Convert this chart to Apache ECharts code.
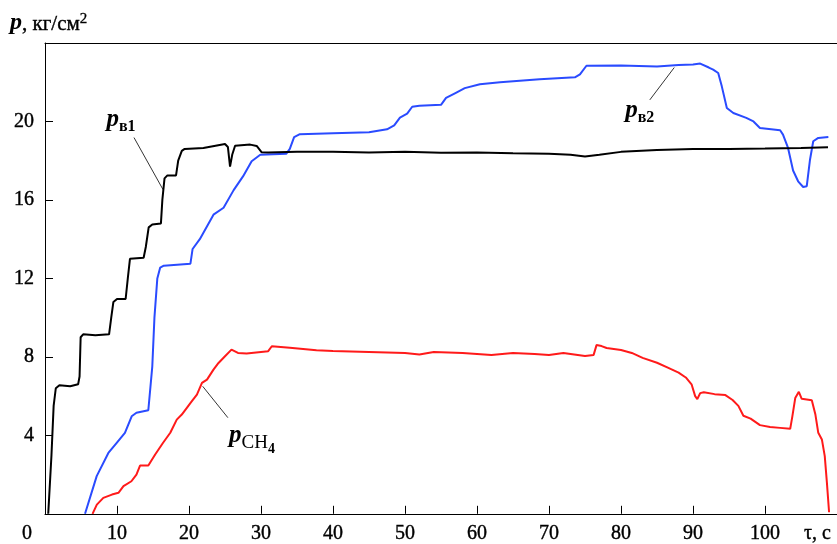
<!DOCTYPE html>
<html>
<head>
<meta charset="utf-8">
<script src="https://cdn.jsdelivr.net/npm/echarts@6/dist/echarts.min.js"></script>
<style>html,body{margin:0;padding:0;background:#fff;}#c{width:837px;height:544px;}</style>
</head>
<body>
<div id="c"></div>
<script>
// ---- data ----
var xTicks = [0,10,20,30,40,50,60,70,80,90,100,110];
var yTicks = [4,8,12,16,20];

var pv1X = [0.45,0.9,1.2,1.5,2.0,3.5,4.6,4.8,4.95,5.3,7.0,8.9,9.2,9.5,10.0,11.2,11.5,11.8,13.7,14.0,14.4,14.9,16.1,16.3,16.6,17.0,18.2,18.5,19.0,19.4,22.0,25.0,25.4,25.7,26.0,26.4,28.5,29.4,30.1,31,35,40,45,50,55,60,65,70,73,75,77,80,85,90,95,100,105,108.75];
var pv1Y = [0,3.0,5.5,6.4,6.55,6.5,6.6,7.0,9.0,9.15,9.1,9.15,10.0,10.8,10.95,10.95,12.0,13.0,13.05,13.6,14.6,14.75,14.8,16.0,17.1,17.25,17.25,18.0,18.5,18.6,18.65,18.85,18.7,17.7,18.3,18.76,18.82,18.75,18.43,18.42,18.45,18.45,18.42,18.45,18.4,18.42,18.38,18.35,18.3,18.22,18.3,18.45,18.55,18.6,18.6,18.62,18.65,18.68];

var pv2X = [5.56,7.18,8.8,9.96,11.1,12.04,12.7,14.35,14.6,14.9,15.2,15.6,16.0,16.5,20.2,20.5,21.5,23.4,24.8,26.2,27.5,28.7,29.9,33.5,34.0,34.6,35.4,40,45,47.5,48.5,49.3,50.3,51.0,52,55,55.7,57,58.3,60.4,63.2,68.7,73.6,74.3,75.2,80,85,88,90,91,92.2,92.8,93.5,94.0,94.7,95.6,97.4,98.4,99.3,102.1,102.5,103.2,103.9,104.6,105.3,105.8,106.25,106.7,107.4,108.8];
var pv2Y = [0,1.92,3.1,3.62,4.13,4.97,5.15,5.28,5.3,7.5,10.0,12.0,12.55,12.65,12.75,13.5,14.0,15.25,15.6,16.5,17.2,17.97,18.3,18.35,18.6,19.2,19.35,19.4,19.45,19.6,19.8,20.2,20.4,20.75,20.8,20.85,21.2,21.45,21.7,21.9,22.0,22.15,22.25,22.4,22.84,22.85,22.8,22.88,22.9,22.95,22.75,22.64,22.47,21.79,20.69,20.43,20.18,20.0,19.67,19.55,19.33,18.65,17.5,16.95,16.66,16.7,18.05,18.99,19.16,19.21];

var pchX = [6.6,7.2,8.1,9.3,10.2,10.9,12.0,12.7,13.2,14.35,15.3,16.4,17.4,18.3,19.0,19.7,20.4,21.1,21.8,22.5,23.4,24.1,25.0,25.9,26.8,28.0,31.0,31.5,34.0,37.7,40,45,50,52,54,58,62,65,68,70,72,75,76.2,76.6,77.3,78,80,81.5,83,85,86.5,88,89,89.8,90.3,90.6,91,91.5,93,94.5,95.5,96.3,97,98,99.3,100.7,102.1,103.5,103.8,104.2,104.7,105.1,106.5,107.0,107.4,107.9,108.3,108.6,108.9];
var pchY = [0,0.47,0.81,0.98,1.07,1.41,1.66,2.0,2.46,2.46,3.02,3.62,4.13,4.8,5.06,5.4,5.74,6.08,6.67,6.84,7.35,7.69,8.03,8.37,8.2,8.17,8.29,8.54,8.46,8.34,8.3,8.25,8.2,8.12,8.25,8.2,8.1,8.2,8.15,8.1,8.2,8.05,8.1,8.6,8.55,8.45,8.35,8.2,7.95,7.7,7.45,7.2,6.95,6.6,6.0,5.85,6.15,6.2,6.1,6.05,5.8,5.5,5.0,4.85,4.52,4.43,4.38,4.33,4.97,5.9,6.22,5.86,5.79,5.06,4.13,3.79,2.94,1.58,0.08];

// annotation anchors (data coords): label centre, leader line start/end
var labelPv1 = [10.56, 19.97], leaderPv1 = [[12.36,19.18],[16.39,16.53]];
var labelPv2 = [82.6, 20.43],  leaderPv2 = [[84.0,21.1],[87.4,22.75]];
var labelPch = [28.75, 3.70],  leaderPch = [[25.4,4.9],[21.9,6.5]];

function pairs(xs, ys){ var o=[]; for(var i=0;i<xs.length;i++) o.push([xs[i], ys[i]]); return o; }

var SERIF = '"Liberation Serif","DejaVu Serif",serif';
function tok(size, weight, italic, padTop, lh){
  return {fontFamily:SERIF, fontSize:size, fontWeight:weight, fontStyle:italic?'italic':'normal',
    color:'#000', verticalAlign:'top', padding:[padTop,0,0,0], lineHeight:lh};
}
var richV = {p:tok(25,'bold',true,0,30), s:tok(16,'bold',false,12,30)};
var richC = {p:tok(25,'bold',true,0,36), c:tok(19,'normal',false,10,36), n:tok(14,'bold',false,19,36)};

function annot(label, leader, text, rich){
  return {
    markPoint: {
      symbol:'circle', symbolSize:0, silent:true, animation:false,
      data:[{coord:label, label:{show:true, position:'inside', formatter:text, rich:rich}}]
    },
    markLine: {
      symbol:['none','none'], silent:true, animation:false,
      label:{show:false},
      lineStyle:{color:'#000', width:0.8, type:'solid'},
      data:[[{coord:leader[0]},{coord:leader[1]}]]
    }
  };
}

var chart = echarts.init(document.getElementById('c'), null, {renderer:'canvas'});
var a1 = annot(labelPv1, leaderPv1, '{p|p}{s|в1}', richV);
var a2 = annot(labelPv2, leaderPv2, '{p|p}{s|в2}', richV);
var a3 = annot(labelPch, leaderPch, '{p|p}{c|CH}{n|4}', richC);

var tickFont = {fontFamily:SERIF, fontSize:20, color:'#000', textBorderColor:'#000', textBorderWidth:0.4};

var option = {
  animation:false,
  backgroundColor:'#fff',
  grid:{left:45, right:0, top:43, bottom:30, containLabel:false},
  xAxis:[{
    type:'value', min:0, max:110, interval:10,
    axisLine:{show:true, lineStyle:{color:'#000', width:1}},
    axisTick:{show:true, inside:true, length:8, lineStyle:{color:'#000'}},
    splitLine:{show:false},
    axisLabel:{
      show:true, margin:10, showMinLabel:true, showMaxLabel:true,
      fontFamily:SERIF, fontSize:20, color:'#000',
      formatter:function(v){
        if(v===0) return '{z|0}';
        if(v===110) return '{t|τ, c}';
        return '{d|'+v+'}';
      },
      rich:{
        d:tickFont,
        z:Object.assign({}, tickFont, {padding:[0,36,0,0]}),
        t:Object.assign({}, tickFont, {padding:[0,39,0,0]})
      }
    }
  },{
    type:'value', position:'top', min:0, max:110,
    axisLine:{show:true, onZero:false, lineStyle:{color:'#000', width:1}},
    axisTick:{show:false}, axisLabel:{show:false}, splitLine:{show:false}
  }],
  yAxis:{
    type:'value', min:0, max:24, interval:4,
    axisLine:{show:true, lineStyle:{color:'#000', width:1}},
    axisTick:{show:true, inside:true, length:8, lineStyle:{color:'#000'}},
    splitLine:{show:false},
    axisLabel:{
      margin:11, fontFamily:SERIF, fontSize:20, color:'#000', textBorderColor:'#000', textBorderWidth:0.4,
      formatter:function(v){ return yTicks.indexOf(v) >= 0 ? String(v) : ''; }
    }
  },
  graphic:[{
    type:'text', left:10, top:11, silent:true,
    style:{
      text:'{p|p}{t|, кг/см}{s|2}',
      rich:{
        p:{fontFamily:SERIF, fontStyle:'italic', fontWeight:'bold', fontSize:24, fill:'#000', verticalAlign:'top', lineHeight:28},
        t:{fontFamily:SERIF, fontSize:21, fill:'#000', verticalAlign:'top', padding:[3,0,0,0], lineHeight:28, stroke:'#000', lineWidth:0.4},
        s:{fontFamily:SERIF, fontSize:15, fill:'#000', verticalAlign:'top', lineHeight:28, stroke:'#000', lineWidth:0.3}
      }
    }
  }],
  series:[
    Object.assign({type:'line', name:'pв1', data:pairs(pv1X,pv1Y), showSymbol:false, symbol:'none',
      lineStyle:{color:'#000000', width:2}, itemStyle:{color:'#000'}, z:3}, a1),
    Object.assign({type:'line', name:'pв2', data:pairs(pv2X,pv2Y), showSymbol:false, symbol:'none',
      lineStyle:{color:'#2a4bff', width:2}, itemStyle:{color:'#2a4bff'}, z:2}, a2),
    Object.assign({type:'line', name:'pCH4', data:pairs(pchX,pchY), showSymbol:false, symbol:'none',
      lineStyle:{color:'#ff1a1a', width:2}, itemStyle:{color:'#ff1a1a'}, z:4}, a3)
  ]
};
chart.setOption(option);
</script>
</body>
</html>
